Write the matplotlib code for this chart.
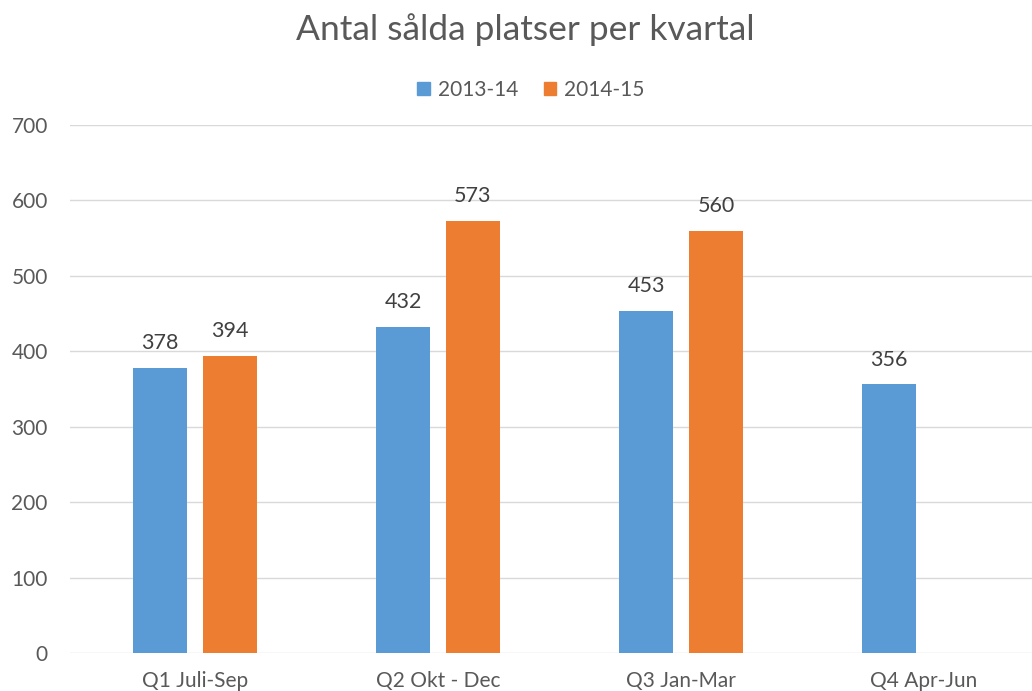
import matplotlib
matplotlib.use("Agg")
import matplotlib.pyplot as plt
import numpy as np
from matplotlib.patches import Patch

categories = ["Q1 Juli-Sep", "Q2 Okt - Dec", "Q3 Jan-Mar", "Q4 Apr-Jun"]
series_names = ["2013-14", "2014-15"]
values_1314 = [378, 432, 453, 356]
values_1415 = [394, 573, 560, None]
yticks = [0, 100, 200, 300, 400, 500, 600, 700]

plt.rcParams['font.family'] = ['Lato', 'DejaVu Sans']
W, H = 1032, 691
fig = plt.figure(figsize=(W/100, H/100), dpi=100)
ax = fig.add_axes([70/W, (H-653)/H, (W-70)/W, (653-125)/H])

blue = "#5B9BD5"
orange = "#ED7D31"
text_col = "#595959"
x = np.arange(len(categories))
bw = 0.225
off = 0.144

for i, v in enumerate(values_1314):
    if v is not None:
        ax.bar(x[i]-off, v, bw, color=blue, zorder=3)
        ax.text(x[i]-off, v+33, str(v), ha='center', va='center', fontsize=15.5, color="#404040")
for i, v in enumerate(values_1415):
    if v is not None:
        ax.bar(x[i]+off, v, bw, color=orange, zorder=3)
        ax.text(x[i]+off, v+33, str(v), ha='center', va='center', fontsize=15.5, color="#404040")

ax.set_xlim(-0.514, 3.444)
ax.set_ylim(0, 700)
ax.set_yticks(yticks)
ax.set_yticklabels([str(t) for t in yticks])
ax.set_xticks(x)
ax.set_xticklabels(categories)
ax.tick_params(axis='both', length=0, labelsize=15, colors=text_col)
ax.tick_params(axis='y', pad=16)
ax.tick_params(axis='x', pad=13)
for s in ax.spines.values():
    s.set_visible(False)
ax.grid(axis='y', color="#D9D9D9", linewidth=1, zorder=0)
ax.set_axisbelow(True)

fig.text(525/W, 1-30/H, "Antal sålda platser per kvartal", ha='center', va='center',
         fontsize=25.5, color=text_col)

handles = [Patch(color=blue), Patch(color=orange)]
leg = fig.legend(handles, series_names, loc='center', bbox_to_anchor=(531/W, 1-90/H),
                 ncol=2, frameon=False, fontsize=15, handlelength=0.6, handleheight=0.6,
                 handletextpad=0.4, columnspacing=1.2)
for t in leg.get_texts():
    t.set_color(text_col)

fig.savefig("out.png", dpi=100)
